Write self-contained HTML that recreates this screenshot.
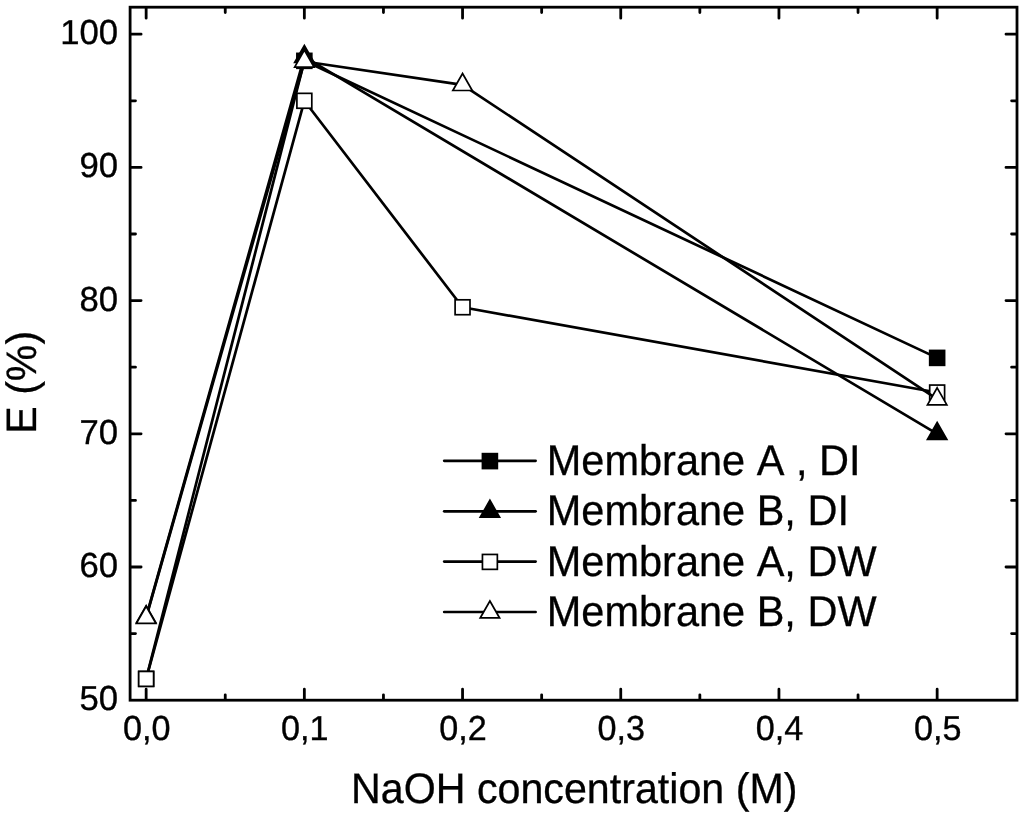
<!DOCTYPE html>
<html><head><meta charset="utf-8"><title>E (%) vs NaOH concentration (M)</title>
<style>
html,body{margin:0;padding:0;background:#fff;}
body{width:1024px;height:815px;overflow:hidden;}
svg{display:block;}
text{font-family:"Liberation Sans",Arial,sans-serif;fill:#000;font-kerning:none;text-rendering:geometricPrecision;}
.tick{font-size:34.7px;stroke:#000;stroke-width:0.35px;}
.lbl{font-size:41.5px;stroke:#000;stroke-width:0.3px;}
</style></head><body>
<svg width="1024" height="815" viewBox="0 0 1024 815">
<rect width="1024" height="815" fill="#fff"/>
<rect x="130.1" y="7.2" width="886.90" height="693.00" fill="none" stroke="#000" stroke-width="2.8"/>
<path d="M146.15 699.6v-10.4M146.15 7.8v10.4M225.25 699.6v-4.8M225.25 7.8v4.8M304.35 699.6v-10.4M304.35 7.8v10.4M383.45 699.6v-4.8M383.45 7.8v4.8M462.55 699.6v-10.4M462.55 7.8v10.4M541.65 699.6v-4.8M541.65 7.8v4.8M620.75 699.6v-10.4M620.75 7.8v10.4M699.85 699.6v-4.8M699.85 7.8v4.8M778.95 699.6v-10.4M778.95 7.8v10.4M858.05 699.6v-4.8M858.05 7.8v4.8M937.15 699.6v-10.4M937.15 7.8v10.4M130.7 633.60h4.8M1016.4 633.60h-4.8M130.7 567.00h10.4M1016.4 567.00h-10.4M130.7 500.40h4.8M1016.4 500.40h-4.8M130.7 433.80h10.4M1016.4 433.80h-10.4M130.7 367.20h4.8M1016.4 367.20h-4.8M130.7 300.60h10.4M1016.4 300.60h-10.4M130.7 234.00h4.8M1016.4 234.00h-4.8M130.7 167.40h10.4M1016.4 167.40h-10.4M130.7 100.80h4.8M1016.4 100.80h-4.8M130.7 34.20h10.4M1016.4 34.20h-10.4" fill="none" stroke="#000" stroke-width="2.8" stroke-linecap="round"/>
<text class="tick" transform="translate(118.1 710.4) scale(1 1.0)" text-anchor="end">50</text>
<text class="tick" transform="translate(118.1 576.7) scale(1 1.0)" text-anchor="end">60</text>
<text class="tick" transform="translate(118.1 443.7) scale(1 1.0)" text-anchor="end">70</text>
<text class="tick" transform="translate(118.1 310.7) scale(1 1.0)" text-anchor="end">80</text>
<text class="tick" transform="translate(118.1 177.2) scale(1 1.0)" text-anchor="end">90</text>
<text class="tick" transform="translate(118.1 43.5) scale(1 1.0)" text-anchor="end">100</text>
<text class="tick" style="font-size:34.2px" transform="translate(146.65 740.1) scale(1 1.015)" text-anchor="middle">0,0</text>
<text class="tick" style="font-size:34.2px" transform="translate(304.85 740.1) scale(1 1.015)" text-anchor="middle">0,1</text>
<text class="tick" style="font-size:34.2px" transform="translate(463.05 740.1) scale(1 1.015)" text-anchor="middle">0,2</text>
<text class="tick" style="font-size:34.2px" transform="translate(621.25 740.1) scale(1 1.015)" text-anchor="middle">0,3</text>
<text class="tick" style="font-size:34.2px" transform="translate(779.45 740.1) scale(1 1.015)" text-anchor="middle">0,4</text>
<text class="tick" style="font-size:34.2px" transform="translate(937.65 740.1) scale(1 1.015)" text-anchor="middle">0,5</text>
<text class="lbl" style="font-size:41.2px" transform="translate(574.25 802.5) scale(1 1.035)" text-anchor="middle">NaOH concentration (M)</text>
<text class="lbl" style="font-size:41.1px" transform="translate(36.0 382.3) rotate(-90) scale(1 1.035)" text-anchor="middle">E (%)</text>
<polyline points="146.15,678.89 304.35,60.84 937.15,357.88" fill="none" stroke="#000" stroke-width="2.7" stroke-linejoin="round"/>
<rect x="138.70" y="671.44" width="14.9" height="14.9" fill="#000" stroke="#000" stroke-width="1.7"/>
<rect x="296.90" y="53.39" width="14.9" height="14.9" fill="#000" stroke="#000" stroke-width="1.7"/>
<rect x="929.70" y="350.43" width="14.9" height="14.9" fill="#000" stroke="#000" stroke-width="1.7"/>
<polyline points="146.15,616.95 304.35,56.84 937.15,433.80" fill="none" stroke="#000" stroke-width="2.7" stroke-linejoin="round"/>
<path d="M146.15 605.62L155.85 622.62L136.45 622.62Z" fill="#000" stroke="#000" stroke-width="1.7" stroke-linejoin="miter"/>
<path d="M304.35 45.51L314.05 62.51L294.65 62.51Z" fill="#000" stroke="#000" stroke-width="1.7" stroke-linejoin="miter"/>
<path d="M937.15 422.47L946.85 439.47L927.45 439.47Z" fill="#000" stroke="#000" stroke-width="1.7" stroke-linejoin="miter"/>
<polyline points="146.15,678.89 304.35,100.80 462.55,307.26 937.15,392.51" fill="none" stroke="#000" stroke-width="2.7" stroke-linejoin="round"/>
<rect x="138.70" y="671.44" width="14.9" height="14.9" fill="#fff" stroke="#000" stroke-width="1.7"/>
<rect x="296.90" y="93.35" width="14.9" height="14.9" fill="#fff" stroke="#000" stroke-width="1.7"/>
<rect x="455.10" y="299.81" width="14.9" height="14.9" fill="#fff" stroke="#000" stroke-width="1.7"/>
<rect x="929.70" y="385.06" width="14.9" height="14.9" fill="#fff" stroke="#000" stroke-width="1.7"/>
<polyline points="146.15,617.62 304.35,61.51 462.55,84.82 937.15,399.17" fill="none" stroke="#000" stroke-width="2.7" stroke-linejoin="round"/>
<path d="M146.15 606.29L155.85 623.29L136.45 623.29Z" fill="#fff" stroke="#000" stroke-width="1.7" stroke-linejoin="miter"/>
<path d="M304.35 50.18L314.05 67.18L294.65 67.18Z" fill="#fff" stroke="#000" stroke-width="1.7" stroke-linejoin="miter"/>
<path d="M462.55 73.49L472.25 90.49L452.85 90.49Z" fill="#fff" stroke="#000" stroke-width="1.7" stroke-linejoin="miter"/>
<path d="M937.15 387.84L946.85 404.84L927.45 404.84Z" fill="#fff" stroke="#000" stroke-width="1.7" stroke-linejoin="miter"/>
<path d="M444.2 460.8H535.6" stroke="#000" stroke-width="2.7" stroke-linecap="round" fill="none"/>
<rect x="482.45" y="453.65" width="14.9" height="14.9" fill="#000" stroke="#000" stroke-width="1.7"/>
<text class="lbl" transform="translate(546.8 475.2) scale(1 1.035)">Membrane A , DI</text>
<path d="M444.2 511.3H535.6" stroke="#000" stroke-width="2.7" stroke-linecap="round" fill="none"/>
<path d="M489.90 500.27L499.60 517.27L480.20 517.27Z" fill="#000" stroke="#000" stroke-width="1.7" stroke-linejoin="miter"/>
<text class="lbl" transform="translate(546.8 525.35) scale(1 1.035)">Membrane B, DI</text>
<path d="M444.2 561.6H535.6" stroke="#000" stroke-width="2.7" stroke-linecap="round" fill="none"/>
<rect x="482.45" y="554.45" width="14.9" height="14.9" fill="#fff" stroke="#000" stroke-width="1.7"/>
<text class="lbl" transform="translate(546.8 575.8) scale(1 1.035)">Membrane A, DW</text>
<path d="M444.2 612.0H535.6" stroke="#000" stroke-width="2.7" stroke-linecap="round" fill="none"/>
<path d="M489.90 600.97L499.60 617.97L480.20 617.97Z" fill="#fff" stroke="#000" stroke-width="1.7" stroke-linejoin="miter"/>
<text class="lbl" transform="translate(546.8 625.6) scale(1 1.035)">Membrane B, DW</text>
</svg>
</body></html>
